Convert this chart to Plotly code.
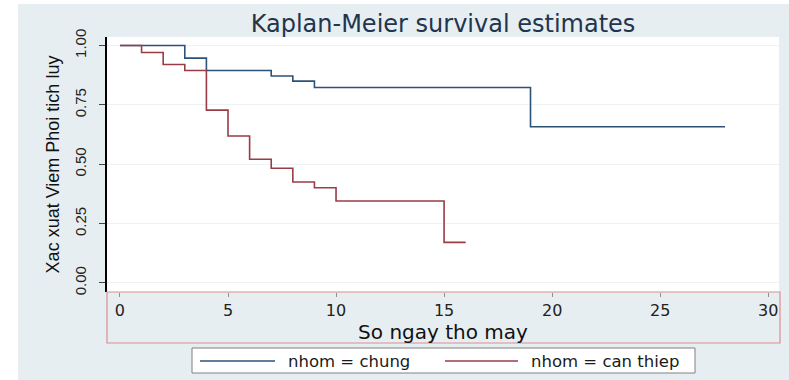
import plotly.graph_objects as go

# ---- data ----
chung_t = [0, 3, 4, 7, 8, 9, 19, 28]
chung_s = [1.0, 0.947, 0.895, 0.872, 0.850, 0.823, 0.658, 0.658]
can_t = [0, 1, 2, 3, 4, 5, 6, 7, 8, 9, 10, 15, 16]
can_s = [1.0, 0.971, 0.920, 0.895, 0.728, 0.619, 0.521, 0.483, 0.425, 0.401, 0.345, 0.171, 0.171]
series_names = ["nhom = chung", "nhom = can thiep"]
series_colors = ["#2c5277", "#9a3c46"]
x_ticks = [0, 5, 10, 15, 20, 25, 30]
y_ticks = [0, 0.25, 0.5, 0.75, 1.0]

W, H = 789, 380
L, R, T, B = 107, 10, 37, 88
PW, PH = W - L - R, H - T - B

def px_x(p):
    return (p - L) / PW

def px_y(p):
    return (H - B - p) / PH

BG = "#e7eef1"
HFONT = "DejaVu Sans"
VFONT = "Liberation Sans"

fig = go.Figure()
for t, s, name, col in [(chung_t, chung_s, series_names[0], series_colors[0]),
                        (can_t, can_s, series_names[1], series_colors[1])]:
    fig.add_trace(go.Scatter(x=t, y=s, mode="lines", name=name,
                             line=dict(color=col, width=1.6, shape="hv"),
                             showlegend=False))

shapes = [
    # white strips at left/top edge of the image
    dict(type="rect", xref="paper", yref="paper", x0=px_x(0), x1=px_x(18), y0=px_y(380), y1=px_y(0),
         fillcolor="white", line=dict(width=0), layer="below"),
    dict(type="rect", xref="paper", yref="paper", x0=px_x(0), x1=px_x(789), y0=px_y(4), y1=px_y(0),
         fillcolor="white", line=dict(width=0), layer="below"),
    # red box around x-axis region
    dict(type="rect", xref="paper", yref="paper", x0=px_x(107), x1=px_x(780), y0=px_y(343), y1=px_y(292),
         fillcolor="rgba(0,0,0,0)", line=dict(color="#dc8e90", width=1.2), layer="above"),
    # legend box
    dict(type="rect", xref="paper", yref="paper", x0=px_x(192), x1=px_x(695), y0=px_y(373), y1=px_y(348),
         fillcolor="white", line=dict(color="#808080", width=1), layer="above"),
    dict(type="line", xref="paper", yref="paper", x0=px_x(200), x1=px_x(275), y0=px_y(361), y1=px_y(361),
         line=dict(color=series_colors[0], width=1.6), layer="above"),
    dict(type="line", xref="paper", yref="paper", x0=px_x(445), x1=px_x(518), y0=px_y(361), y1=px_y(361),
         line=dict(color=series_colors[1], width=1.6), layer="above"),
]

annotations = [
    dict(text=series_names[0], xref="paper", yref="paper", x=px_x(286), y=px_y(361),
         xanchor="left", yanchor="middle", showarrow=False,
         font=dict(family=HFONT, size=16.5, color="#1a1a1a")),
    dict(text=series_names[1], xref="paper", yref="paper", x=px_x(529), y=px_y(361),
         xanchor="left", yanchor="middle", showarrow=False,
         font=dict(family=HFONT, size=16.5, color="#1a1a1a")),
]

fig.update_layout(
    width=W, height=H,
    margin=dict(l=L, r=R, t=T, b=B, pad=0),
    paper_bgcolor=BG, plot_bgcolor="white",
    showlegend=False,
    title=dict(text="Kaplan-Meier survival estimates", x=0.5, xref="paper",
               y=1 - 24 / H, yref="container", xanchor="center", yanchor="middle",
               font=dict(family=HFONT, size=24, color="#22344e")),
    shapes=shapes, annotations=annotations,
)
fig.update_xaxes(range=[-0.6, 30.5], tickvals=x_ticks, ticktext=[str(v) for v in x_ticks],
                 showgrid=False, zeroline=False, showline=False,
                 ticks="outside", ticklen=4, tickcolor="#909090", tickwidth=1,
                 tickfont=dict(family=HFONT, size=16, color="#222"),
                 title=dict(text="So ngay tho may", standoff=3,
                            font=dict(family=HFONT, size=20, color="#111")))
fig.update_yaxes(range=[-0.038, 1.036], tickvals=y_ticks, ticktext=["%.2f" % v for v in y_ticks],
                 tickangle=-90, showgrid=True, gridcolor="#edf2f4", gridwidth=1,
                 zeroline=False, showline=True, linecolor="black", linewidth=1.5,
                 ticks="outside", ticklen=6, tickcolor="#444", tickwidth=1,
                 ticklabelstandoff=7,
                 tickfont=dict(family=VFONT, size=15, color="#222"),
                 title=dict(text="Xac xuat Viem Phoi tich luy", standoff=8,
                            font=dict(family=VFONT, size=18, color="#111")))

fig.write_html("out.html")
